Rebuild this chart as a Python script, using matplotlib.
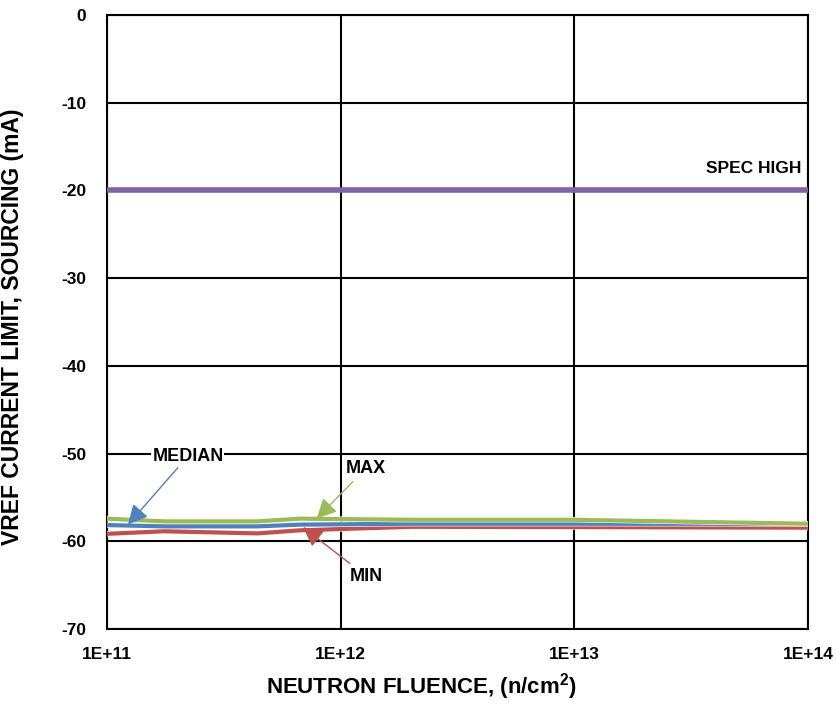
import numpy as np
import matplotlib
matplotlib.use("Agg")
import matplotlib.pyplot as plt
import matplotlib.patheffects as pe
from matplotlib.ticker import NullLocator

plt.rcParams["font.family"] = ["Liberation Sans", "DejaVu Sans"]
plt.rcParams["font.weight"] = "bold"
plt.rcParams["axes.unicode_minus"] = False
plt.rcParams["mathtext.fontset"] = "custom"
plt.rcParams["mathtext.rm"] = "Liberation Sans:bold"
plt.rcParams["mathtext.bf"] = "Liberation Sans:bold"

# data
fluence = [1e11, 1.75e11, 4.4e11, 6.7e11, 2e12, 1e13, 1e14]
v_max = [-57.42, -57.73, -57.73, -57.42, -57.55, -57.55, -58.0]
v_median = [-58.15, -58.3, -58.3, -58.1, -58.0, -58.0, -58.02]
v_min = [-59.15, -58.86, -59.1, -58.75, -58.35, -58.38, -58.45]
spec_high = -20

x_ticks = [1e11, 1e12, 1e13, 1e14]
x_tick_labels = ["1E+11", "1E+12", "1E+13", "1E+14"]
y_ticks = [0, -10, -20, -30, -40, -50, -60, -70]

c_max = "#9BBB59"
c_med = "#4F81BD"
c_min = "#C0504D"
c_spec = "#8064A2"

fig = plt.figure(figsize=(8.36, 7.11), dpi=100)
ax = fig.add_axes([107 / 836, 1 - 629 / 711, 701 / 836, 614 / 711])

ax.set_xscale("log")
ax.set_xlim(1e11, 1e14)
ax.set_ylim(-70, 0)

ax.set_xticks(x_ticks)
ax.set_xticklabels(x_tick_labels)
ax.xaxis.set_minor_locator(NullLocator())
ax.set_yticks(y_ticks)
ax.grid(True, color="black", lw=1.5)
ax.set_axisbelow(True)
for s in ax.spines.values():
    s.set_linewidth(1.5)
ax.tick_params(axis="both", length=0, labelsize=12.5)
ax.tick_params(axis="y", pad=15)
ax.tick_params(axis="x", pad=13)

glow = [pe.Stroke(linewidth=3.8, foreground="white"), pe.Normal()]
ax.axhline(spec_high, color=c_spec, lw=4, zorder=3)
ax.plot(fluence, v_min, color=c_min, lw=3, zorder=4, path_effects=glow)
ax.plot(fluence, v_median, color=c_med, lw=3, zorder=5, path_effects=glow)
ax.plot(fluence, v_max, color=c_max, lw=3, zorder=6, path_effects=glow)

ax.text(9.4e13, -17.5, "SPEC HIGH", ha="right", va="center", fontsize=12.5,
        fontweight="bold", zorder=7)

arrow_kw = dict(arrowstyle="-|>", lw=1, mutation_scale=30, shrinkA=2, shrinkB=0)
ax.annotate("MEDIAN", xy=(1.23e11, v_median[0] + 0.05), xytext=(2.22e11, -50.3),
            ha="center", va="center", fontsize=13, fontweight="bold",
            bbox=dict(boxstyle="square,pad=0.05", fc="white", ec="none"),
            arrowprops=dict(color=c_med, **arrow_kw), zorder=8)
ax.annotate("MAX", xy=(7.9e11, -57.4), xytext=(1.28e12, -51.7),
            ha="center", va="center", fontsize=13, fontweight="bold",
            arrowprops=dict(color=c_max, **arrow_kw), zorder=8)
ax.annotate("MIN", xy=(6.9e11, -58.4), xytext=(1.29e12, -64.0),
            ha="center", va="center", fontsize=13, fontweight="bold",
            arrowprops=dict(color=c_min, **arrow_kw), zorder=8)

fig.text(13 / 836, 1 - 327 / 711, "VREF CURRENT LIMIT, SOURCING (mA)",
         rotation=90, ha="center", va="center", fontsize=16.5, fontweight="bold")
fig.text(421 / 836, 1 - 687 / 711, r"NEUTRON FLUENCE, (n/cm$^\mathbf{2}$)",
         ha="center", va="center", fontsize=16, fontweight="bold")

fig.savefig("out.png", dpi=100)
